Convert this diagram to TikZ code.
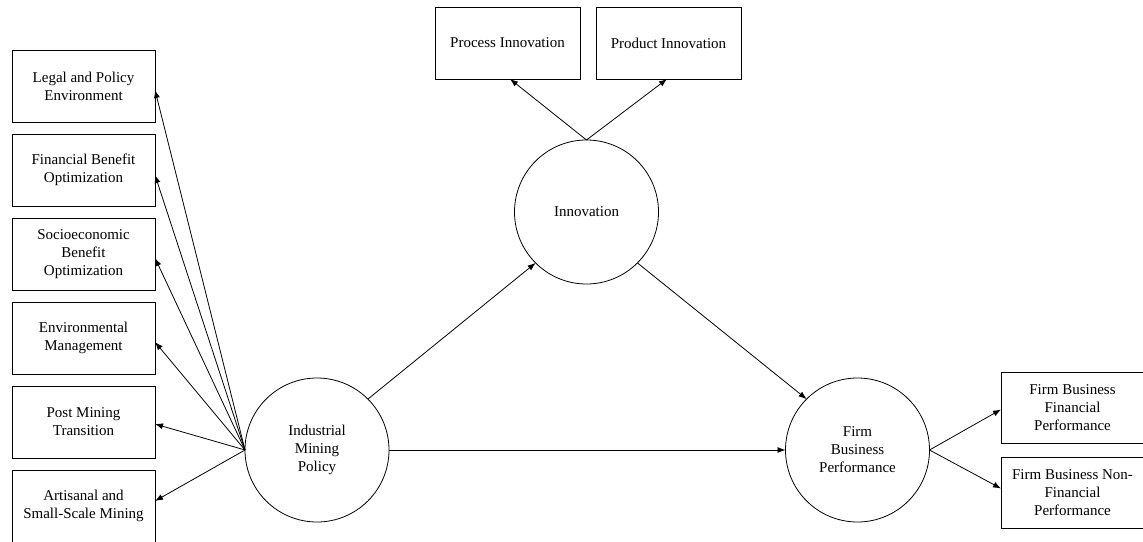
\documentclass[tikz,border=0pt]{standalone}
\usepackage{fontspec}
\setmainfont{Liberation Serif}
\usetikzlibrary{arrows.meta}
\begin{document}
\begin{tikzpicture}[x=1pt,y=-1pt,
  every node/.style={font=\fontsize{15}{18}\selectfont, align=center},
  box/.style={draw, line width=0.8pt, minimum width=143pt, minimum height=72pt, inner sep=0pt, outer sep=0pt},
  latent/.style={draw, circle, line width=0.8pt, minimum size=144pt, inner sep=0pt, outer sep=0pt},
  arr/.style={line width=0.8pt, -{Latex[length=8pt,width=6pt]}}]
\useasboundingbox (0,0) rectangle (1143,541);
% left indicator boxes
\node[box] (b1) at (83.5,86) {Legal and Policy\\Environment};
\node[box] (b2) at (83.5,170) {Financial Benefit\\Optimization};
\node[box] (b3) at (83.5,254) {Socioeconomic\\Benefit\\Optimization};
\node[box] (b4) at (83.5,338) {Environmental\\Management};
\node[box] (b5) at (83.5,422) {Post Mining\\Transition};
\node[box] (b6) at (83.5,506) {Artisanal and\\Small-Scale Mining};
% top boxes
\node[box, minimum width=145pt] (proc) at (507.5,43) {Process Innovation};
\node[box, minimum width=145pt] (prod) at (668.5,43) {Product Innovation};
% right boxes
\node[box, minimum height=71pt] (r1) at (1072.5,407.5) {Firm Business\\Financial\\Performance};
\node[box, minimum height=71pt] (r2) at (1072.5,492.5) {Firm Business Non-\\Financial\\Performance};
% latent variables
\node[latent] (imp) at (317,450) {Industrial\\Mining\\Policy};
\node[latent] (inn) at (586.5,212) {Innovation};
\node[latent] (fbp) at (857.5,450) {Firm\\Business\\Performance};
% connectors
\draw[arr] (imp.west) -- ([yshift=-4pt]b1.east);
\draw[arr] (imp.west) -- ([yshift=-5pt]b2.east);
\draw[arr] (imp.west) -- ([yshift=-4pt]b3.east);
\draw[arr] (imp.west) -- ([yshift=-4pt]b4.east);
\draw[arr] (imp.west) -- ([yshift=-2pt]b5.east);
\draw[arr] (imp.west) -- ([yshift=5pt]b6.east);
\draw[arr] (inn.north) -- ([xshift=2.5pt]proc.south);
\draw[arr] (inn.north) -- ([xshift=-1.5pt]prod.south);
\draw[arr] (imp.45) -- (inn.225);
\draw[arr] (inn.-45) -- (fbp.135);
\draw[arr] (imp.east) -- (fbp.west);
\draw[arr] (fbp.east) -- ([yshift=-2pt]r1.west);
\draw[arr] (fbp.east) -- ([yshift=4pt]r2.west);
\end{tikzpicture}
\end{document}
